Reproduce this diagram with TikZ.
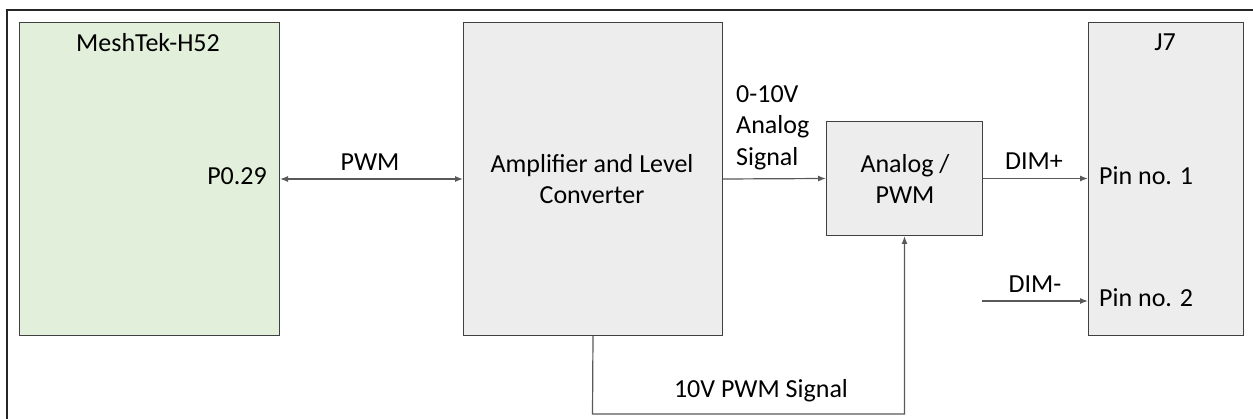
\documentclass[tikz,border=0pt]{standalone}
\usepackage{fontspec}
\setmainfont{Carlito}
\usetikzlibrary{arrows.meta}
\definecolor{greenfill}{HTML}{E2EFDA}
\definecolor{grayfill}{HTML}{EDEDED}
\definecolor{edge}{HTML}{404040}
\definecolor{wire}{HTML}{595959}
\tikzset{
  blockbox/.style={draw=edge, line width=1pt, inner sep=0pt, anchor=north west},
  lbl/.style={inner sep=0pt, font=\fontsize{26}{31.5}\selectfont, text=black},
  wirearrow/.style={draw=wire, line width=1.2pt, -{Latex[length=8pt,width=6pt]}},
  wirearrows/.style={draw=wire, line width=1.2pt, {Latex[length=8pt,width=6pt]}-{Latex[length=8pt,width=6pt]}}
}
\begin{document}
\begin{tikzpicture}[x=1pt,y=-1pt]
\useasboundingbox (0,0) rectangle (1253,419);
\fill[white] (0,0) rectangle (1253,419);
% outer frame (continues beyond the picture)
\draw[line width=2pt, black!85] (1270,10) -- (7,10) -- (7,440);
% blocks
\node[blockbox, fill=greenfill, minimum width=260pt, minimum height=313pt] (mesh) at (19,22) {};
\node[blockbox, fill=grayfill, minimum width=259pt, minimum height=313pt] (amp) at (463,22) {};
\node[blockbox, fill=grayfill, minimum width=156pt, minimum height=114pt] (ana) at (826,121) {};
\node[blockbox, fill=grayfill, minimum width=155pt, minimum height=313pt] (j7) at (1088,22) {};
% block texts
\node[lbl, anchor=base] (meshtitle) at (148,52) {MeshTek-H52};
\node[lbl, anchor=base east] (p029) at (267,185) {P0.29};
\node[lbl, align=center] (amptext) at (592,179) {Amplifier and Level\\Converter};
\node[lbl, align=center] (anatext) at (905,179) {Analog /\\PWM};
\node[lbl, anchor=base] (j7title) at (1165,51) {J7};
\node[lbl, anchor=base west] (pin1) at (1099,185) {Pin no. 1};
\node[lbl, anchor=base west] (pin2) at (1099,307) {Pin no. 2};
% connectors
\draw[wirearrows] (mesh.east) -- (amp.west);
\draw[wirearrow] (amp.east) -- (ana.west);
\draw[wirearrow] (ana.east) -- (ana.east -| j7.west);
\coordinate (dimstart) at (982,301);
\draw[wirearrow] (dimstart) -- (dimstart -| j7.west);
\coordinate (pwmcorner) at (592.5,414);
\draw[wirearrow] (amp.south) -- (pwmcorner) -| (ana.south);
% connector labels
\node[lbl, anchor=base] (pwmlbl) at (370,171) {PWM};
\node[lbl, anchor=north west, align=left] (analbl) at (736,85) {0-10V\\Analog\\Signal};
\node[lbl, anchor=base] (dimplus) at (1034,170) {DIM+};
\node[lbl, anchor=base] (dimminus) at (1035,293) {DIM-};
\node[lbl, anchor=base] (pwmsig) at (761,398) {10V PWM Signal};
\end{tikzpicture}
\end{document}
